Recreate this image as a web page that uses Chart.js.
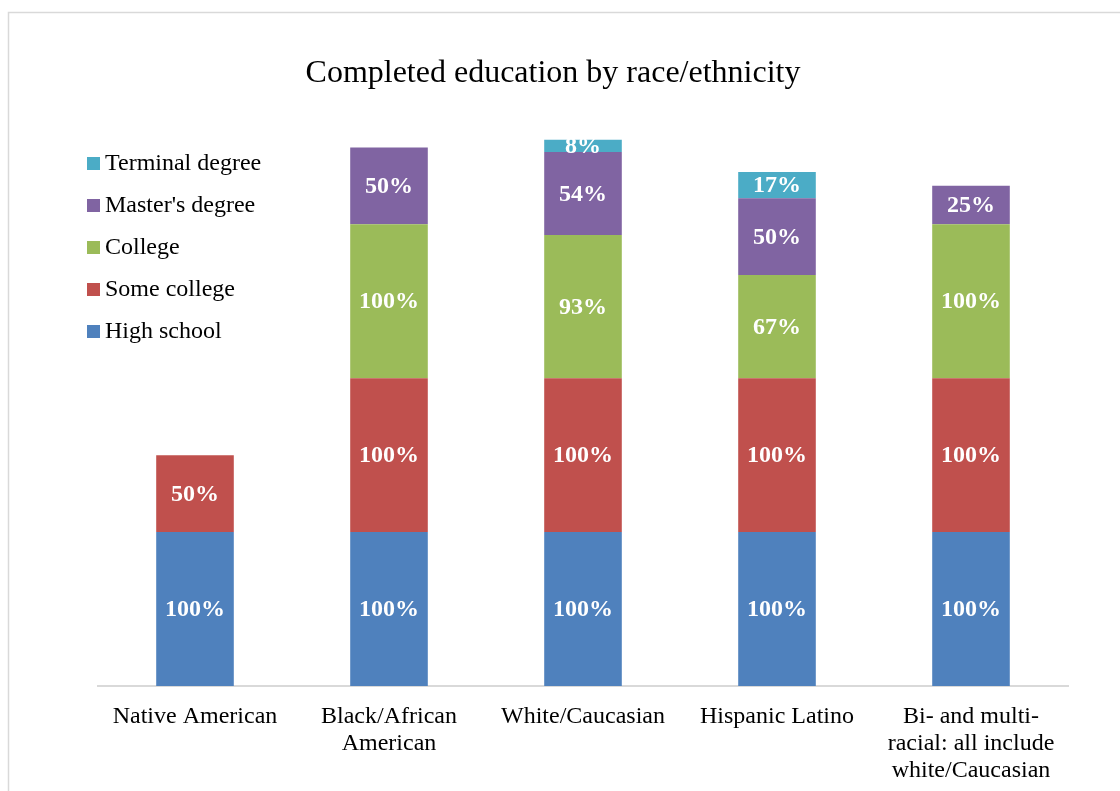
<!DOCTYPE html>
<html>
<head>
<meta charset="utf-8">
<script src="https://cdn.jsdelivr.net/npm/chart.js@4.4.1/dist/chart.umd.min.js"></script>
<style>
  html, body { margin: 0; padding: 0; background: #fff; }
  #wrap { width: 1120px; height: 791px; position: relative; }
</style>
</head>
<body>
<div id="wrap"><canvas id="eduChart"></canvas></div>
<script>
// categories and stacked segment values (percent)
var groups = [
    'Native American',
    ['Black/African', 'American'],
    'White/Caucasian',
    'Hispanic Latino',
    ['Bi- and multi-', 'racial: all include', 'white/Caucasian']
];
var highSchool  = [100, 100, 100, 100, 100];
var someCollege = [50, 100, 100, 100, 100];
var college     = [null, 100, 93, 67, 100];
var masters     = [null, 50, 54, 50, 25];
var terminal    = [null, null, 8, 17, null];

var chartTitle = 'Completed education by race/ethnicity';
var serif = '"Liberation Serif", "Times New Roman", serif';

// light grey frame round the whole chart, plus the title
var framePlugin = {
    id: 'frame',
    beforeDraw: function(chart) {
        var c = chart.ctx;
        c.save();
        c.strokeStyle = '#d9d9d9';
        c.lineWidth = 1.5;
        c.strokeRect(8.5, 12.5, 1300, 1000);
        c.font = '32px ' + serif;
        c.fillStyle = '#000000';
        c.textAlign = 'center';
        c.textBaseline = 'middle';
        c.fillText(chartTitle, 553, 74);
        c.restore();
    }
};

// white bold value labels centred in each segment
var segLabels = {
    id: 'segLabels',
    afterDatasetsDraw: function(chart) {
        var c = chart.ctx;
        c.save();
        c.font = 'bold 24px ' + serif;
        c.fillStyle = '#ffffff';
        c.textAlign = 'center';
        c.textBaseline = 'middle';
        chart.data.datasets.forEach(function(ds, i) {
            var meta = chart.getDatasetMeta(i);
            meta.data.forEach(function(bar, j) {
                var v = ds.data[j];
                if (v == null) return;
                var p = bar.getProps(['x', 'y', 'base'], true);
                c.fillText(v + '%', p.x, (p.y + p.base) / 2 + 1);
            });
        });
        c.restore();
    }
};

// legend stacked at the top-left, last series first
var sideLegend = {
    id: 'sideLegend',
    afterDraw: function(chart) {
        var c = chart.ctx;
        var sets = chart.data.datasets.slice().reverse();
        c.save();
        c.font = '24px ' + serif;
        c.textBaseline = 'middle';
        c.textAlign = 'left';
        sets.forEach(function(ds, k) {
            var y = 163 + k * 42;
            c.fillStyle = ds.backgroundColor;
            c.fillRect(87, y - 6, 13, 13);
            c.fillStyle = '#000000';
            c.fillText(ds.label, 105, y + 1);
        });
        c.restore();
    }
};

new Chart(document.getElementById('eduChart'), {
    type: 'bar',
    data: {
        labels: groups,
        datasets: [
            { label: 'High school',     data: highSchool,  backgroundColor: '#4F81BD' },
            { label: 'Some college',    data: someCollege, backgroundColor: '#C0504D' },
            { label: 'College',         data: college,     backgroundColor: '#9BBB59' },
            { label: "Master's degree", data: masters,     backgroundColor: '#8064A2' },
            { label: 'Terminal degree', data: terminal,    backgroundColor: '#4BACC6' }
        ]
    },
    options: {
        responsive: true,
        maintainAspectRatio: false,
        animation: false,
        datasets: {
            bar: { categoryPercentage: 1.0, barPercentage: 0.4, borderWidth: 0 }
        },
        layout: { padding: { top: 132, left: 98, right: 52, bottom: -10 } },
        plugins: {
            legend: { display: false },
            tooltip: { enabled: false },
            title: { display: false }
        },
        scales: {
            x: {
                stacked: true,
                grid: { display: false, drawTicks: false },
                border: { color: '#d9d9d9', width: 2 },
                ticks: {
                    color: '#000000',
                    padding: 17,
                    maxRotation: 0,
                    autoSkip: false,
                    font: { family: serif, size: 24, lineHeight: 1.125 }
                }
            },
            y: {
                stacked: true,
                display: false,
                min: 0,
                max: 360
            }
        }
    },
    plugins: [framePlugin, segLabels, sideLegend]
});
</script>
</body>
</html>
